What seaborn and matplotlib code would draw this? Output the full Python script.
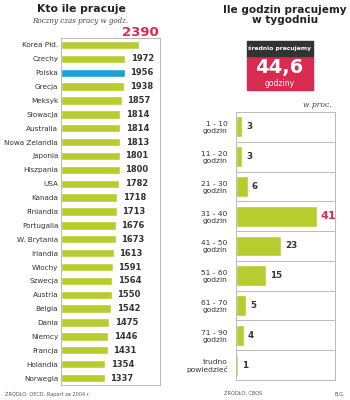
import matplotlib
matplotlib.use('Agg')
import matplotlib.pyplot as plt
import seaborn as sns
import pandas as pd
from matplotlib.patches import Rectangle

# annual hours (OECD 2004)
countries = ['Korea Płd.', 'Czechy', 'Polska', 'Grecja', 'Meksyk', 'Słowacja',
             'Australia', 'Nowa Zelandia', 'Japonia', 'Hiszpania', 'USA', 'Kanada',
             'Finlandia', 'Portugalia', 'W. Brytania', 'Irlandia', 'Włochy',
             'Szwecja', 'Austria', 'Belgia', 'Dania', 'Niemcy', 'Francja',
             'Holandia', 'Norwegia']
hours = [2390, 1972, 1956, 1938, 1857, 1814, 1814, 1813, 1801, 1800, 1782, 1718,
         1713, 1676, 1673, 1613, 1591, 1564, 1550, 1542, 1475, 1446, 1431,
         1354, 1337]

# weekly hours, share in %
week_cats = ['1 - 10\ngodzin', '11 - 20\ngodzin', '21 - 30\ngodzin',
             '31 - 40\ngodzin', '41 - 50\ngodzin', '51 - 60\ngodzin',
             '61 - 70\ngodzin', '71 - 90\ngodzin', 'trudno\npowiedzieć']
week_pct = [3, 3, 6, 41, 23, 15, 5, 4, 1]

GREEN = '#b7cc2e'
BLUE = '#1c9fd9'
RED = '#d92a4f'
TXT = '#333333'
GRID = '#b0b0b0'

sns.set_style('white')
plt.rcParams['font.family'] = ['DejaVu Sans']

fig = plt.figure(figsize=(3.5, 4), dpi=100)

# ---- left panel
df1 = pd.DataFrame({'kraj': countries, 'h': hours})
colors1 = [BLUE if c == 'Polska' else GREEN for c in countries]
n1 = len(countries)
top_px, bot_px = 38, 385
ax1 = fig.add_axes([61/350, 1-bot_px/400, 99/350, (bot_px-top_px)/400])
sns.barplot(data=df1, x='h', y='kraj', hue='kraj', palette=colors1,
            legend=False, ax=ax1, width=0.6, saturation=1)
ax1.set_xlim(0, 3033)
ax1.set_ylim(n1 - 0.5, -0.5)
ax1.set_xlabel('')
ax1.set_ylabel('')
ax1.set_xticks([])
ax1.tick_params(axis='y', length=0, pad=2, labelsize=5.2, labelcolor=TXT)
for s in ax1.spines.values():
    s.set_color(GRID)
    s.set_linewidth(0.6)
for i, v in enumerate(hours):
    if i == 0:
        continue
    ax1.annotate(str(v), (v, i), xytext=(4, 0), textcoords='offset points',
                 va='center', ha='left', fontsize=6, fontweight='bold', color=TXT)
ax1.annotate(str(hours[0]), (hours[0], 0), xytext=(14, 4), textcoords='offset points',
             va='bottom', ha='right', fontsize=9.5, fontweight='bold', color=RED,
             annotation_clip=False)

fig.text(81/350, 1-9/400, 'Kto ile pracuje', ha='center', va='center',
         fontsize=7.8, fontweight='bold', color='#222222')
fig.text(80/350, 1-21/400, 'Roczny czas pracy w godz.', ha='center', va='center',
         fontsize=5.1, style='italic', family='DejaVu Serif', color='#444444')
fig.text(5/350, 1-394/400, 'ŹRÓDŁO: OECD, Raport za 2004 r.', ha='left', va='center',
         fontsize=3.6, color='#555555')

# ---- right panel
df2 = pd.DataFrame({'kat': week_cats, 'p': week_pct})
ax2 = fig.add_axes([236/350, 1-380/400, 99/350, 268/400])
sns.barplot(data=df2, x='p', y='kat', color=GREEN, ax=ax2, width=0.7, saturation=1)
ax2.set_xlim(0, 50.3)
ax2.set_ylim(len(week_cats) - 0.5, -0.5)
ax2.set_xlabel('')
ax2.set_ylabel('')
ax2.set_xticks([])
ax2.tick_params(axis='y', length=0, pad=6, labelsize=5.4, labelcolor=TXT)
for lab in ax2.get_yticklabels():
    lab.set_multialignment('right')
for s in ax2.spines.values():
    s.set_color(GRID)
    s.set_linewidth(0.6)
for k in range(len(week_cats) - 1):
    ax2.axhline(k + 0.5, color=GRID, lw=0.6)
mx = max(week_pct)
for i, v in enumerate(week_pct):
    big = v == mx
    ax2.annotate(str(v), (v, i), xytext=(3, 0), textcoords='offset points',
                 va='center', ha='left', fontsize=8 if big else 6.3,
                 fontweight='bold', color=RED if big else TXT)

fig.text(285/350, 1-15/400, 'Ile godzin pracujemy\nw tygodniu', ha='center',
         va='center', fontsize=7.6, fontweight='bold', color='#222222', linespacing=1.0)

# average box
bx0, bx1, by0, by1, band = 247, 313, 41, 90, 56
fig.patches.append(Rectangle((bx0/350, 1-by1/400), (bx1-bx0)/350, (by1-band)/400,
                             transform=fig.transFigure, color=RED, zorder=1))
fig.patches.append(Rectangle((bx0/350, 1-band/400), (bx1-bx0)/350, (band-by0)/400,
                             transform=fig.transFigure, color='#333333', zorder=1))
fig.text(280/350, 1-48.5/400, 'średnio pracujemy', ha='center', va='center',
         fontsize=4.3, fontweight='bold', color='white')
fig.text(279/350, 1-68/400, '44,6', ha='center', va='center',
         fontsize=14, fontweight='bold', color='white')
fig.text(280/350, 1-84/400, 'godziny', ha='center', va='center',
         fontsize=5.5, color='white')
fig.text(332/350, 1-105/400, 'w proc.', ha='right', va='center',
         fontsize=5.5, style='italic', family='DejaVu Serif', color='#444444')
fig.text(243/350, 1-393/400, 'ŹRÓDŁO: CBOS', ha='center', va='center',
         fontsize=3.6, color='#555555')
fig.text(345/350, 1-394/400, 'B.G.', ha='right', va='center',
         fontsize=3.6, color='#555555')

fig.savefig('out.png', dpi=100)
